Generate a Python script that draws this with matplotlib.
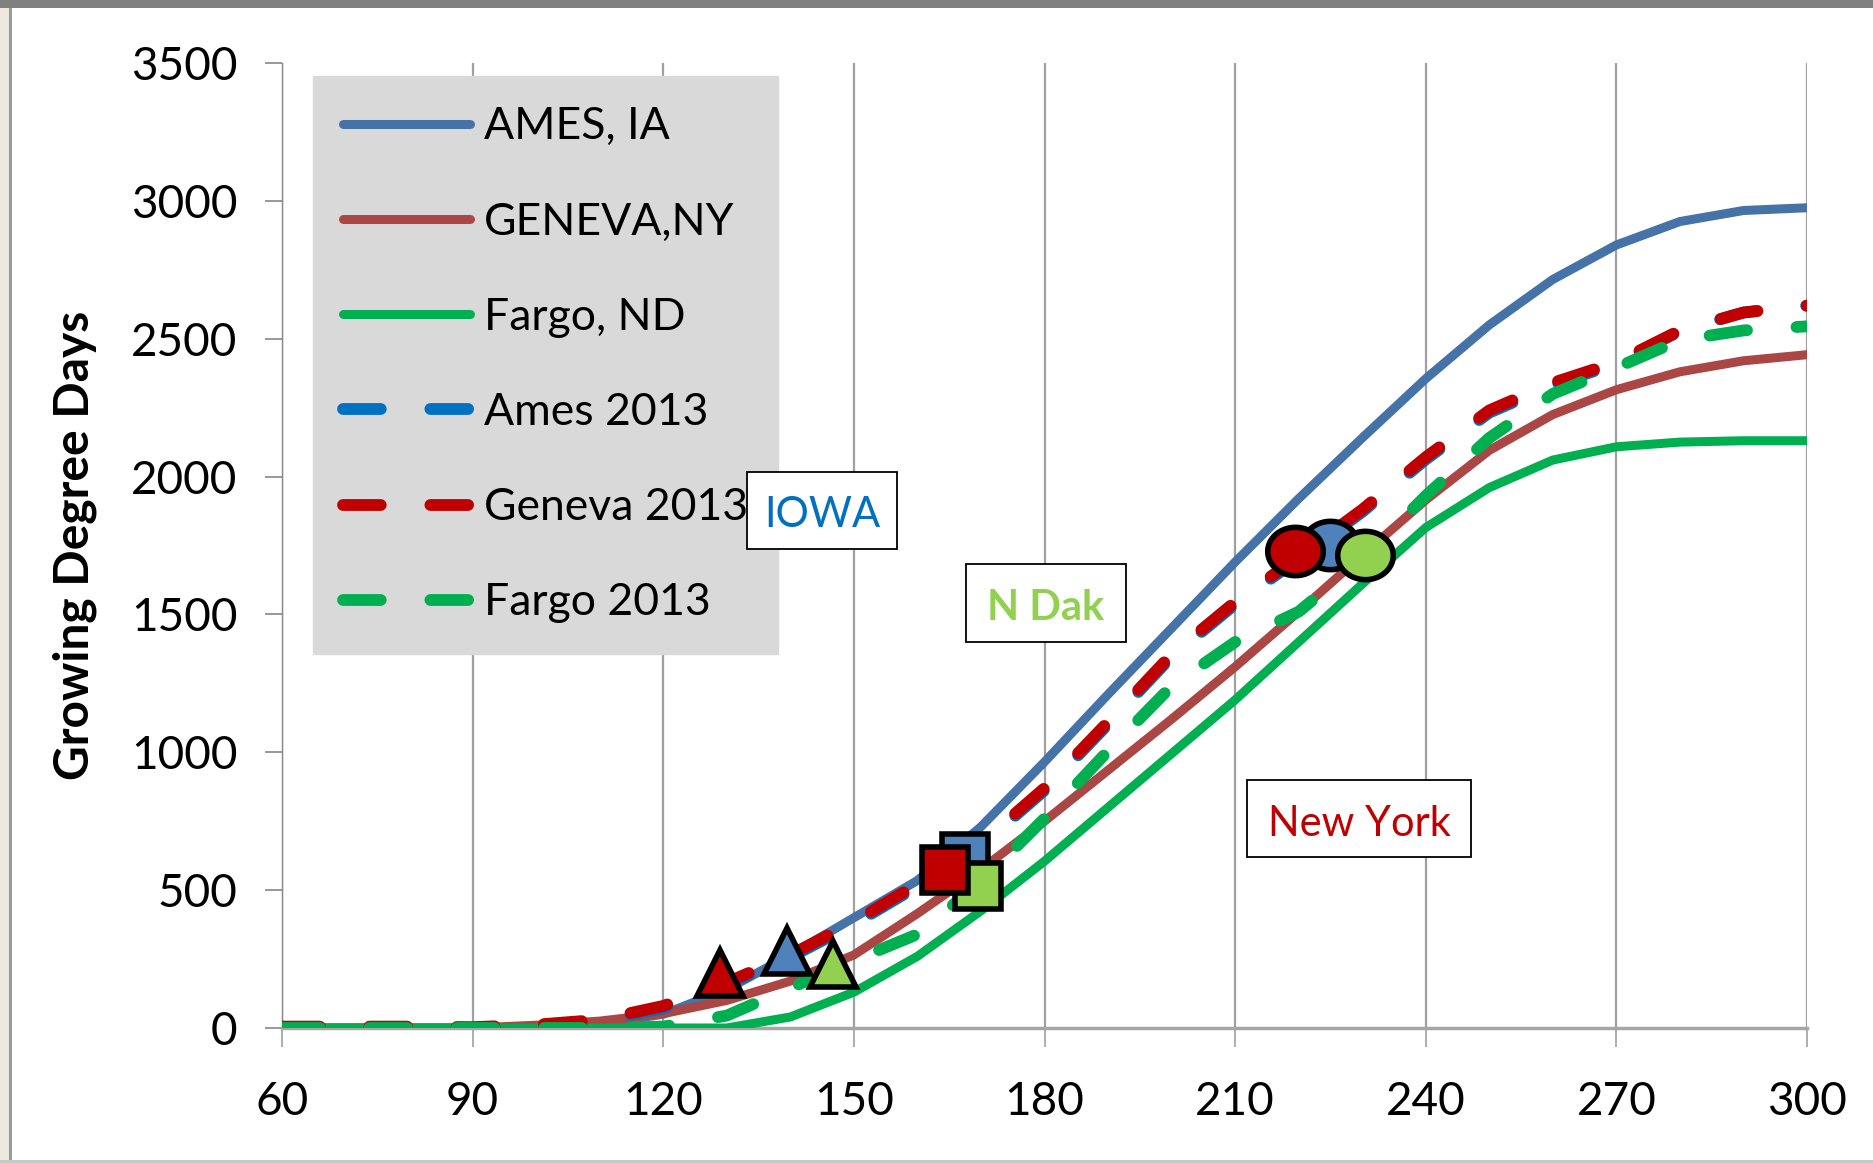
import numpy as np
import matplotlib
matplotlib.use('Agg')
import matplotlib.pyplot as plt
from matplotlib.path import Path
from matplotlib.patches import Rectangle

plt.rcParams['font.family'] = ['Lato', 'DejaVu Sans']

W, H = 1874, 1163

# day of year
days = [60, 70, 80, 90, 100, 110, 120, 130, 140, 150, 160, 170, 180,
        190, 200, 210, 220, 230, 240, 250, 260, 270, 280, 290, 300]

# long-term normals
ames_ia = [0, 0, 0, 0, 3, 15, 50, 140, 265, 400, 535, 730, 965,
           1210, 1450, 1690, 1920, 2140, 2355, 2550, 2715, 2840, 2925, 2965, 2975]
geneva_ny = [0, 0, 0, 0, 10, 25, 52, 100, 170, 265, 415, 575, 750,
             935, 1120, 1310, 1510, 1715, 1915, 2095, 2225, 2315, 2380, 2420, 2442]
fargo_nd = [0, 0, 0, 0, 0, 0, 0, 0, 40, 130, 260, 425, 605,
            800, 995, 1190, 1400, 1610, 1815, 1960, 2060, 2108, 2125, 2130, 2130]

# 2013 season
ames_2013 = [3, 3, 3, 0, 8, 24, 72, 157, 257, 377, 514, 662, 862,
             1102, 1347, 1537, 1702, 1872, 2062, 2232, 2332, 2410, 2528, 2595, 2620]
geneva_2013 = [5, 5, 5, 3, 12, 30, 80, 165, 265, 385, 522, 670, 870,
               1110, 1355, 1545, 1710, 1880, 2070, 2240, 2340, 2415, 2530, 2595, 2620]
fargo_2013 = [0, 0, 0, 0, 0, 0, 5, 45, 145, 245, 340, 530, 760,
              1005, 1240, 1400, 1510, 1700, 1930, 2140, 2300, 2395, 2495, 2530, 2545]

# stage markers: blue = Ames, red = Geneva, green = Fargo
tri_day = {'blue': 139.4, 'red': 128.9, 'green': 146.7}
tri_gdd = {'blue': 279, 'red': 200, 'green': 231}
sq_day = {'blue': 167.5, 'green': 169.5, 'red': 164.3}
sq_gdd = {'blue': 621, 'green': 515, 'red': 572}
circ_day = {'blue': 224.9, 'red': 219.5, 'green': 230.5}
circ_gdd = {'blue': 1752, 'red': 1731, 'green': 1715}

mk_colors = {'blue': '#4F81BD', 'red': '#C00000', 'green': '#92D050'}

fig = plt.figure(figsize=(W / 100, H / 100), dpi=100)
fig.patch.set_facecolor('white')

ax = fig.add_axes([282 / W, 1 - 1028 / H, (1807 - 282) / W, (1028 - 63) / H])

solid_lw = 6.5
dash_lw = 8.5
dash_pat = (3.2, 4.2)

ax.plot(days, ames_ia, color='#4572A7', lw=solid_lw, solid_capstyle='round', label='AMES, IA', zorder=3)
ax.plot(days, geneva_ny, color='#AA4643', lw=solid_lw, solid_capstyle='round', label='GENEVA,NY', zorder=3)
ax.plot(days, fargo_nd, color='#00B050', lw=solid_lw, solid_capstyle='round', label='Fargo, ND', zorder=3)
ax.plot(days, ames_2013, color='#0070C0', lw=dash_lw, dashes=dash_pat, dash_capstyle='round',
        label='Ames 2013', zorder=4)
ax.plot(days, geneva_2013, color='#C00000', lw=dash_lw, dashes=dash_pat, dash_capstyle='round',
        label='Geneva 2013', zorder=4)
ax.plot(days, fargo_2013, color='#00B050', lw=dash_lw, dashes=dash_pat, dash_capstyle='round',
        label='Fargo 2013', zorder=4)

# ellipse marker for the circles
t = np.linspace(0, 2 * np.pi, 80)
ellipse = Path(np.column_stack([np.cos(t), 0.87 * np.sin(t)]))

for c in ['red', 'blue', 'green']:
    ax.plot(tri_day[c], tri_gdd[c], marker='^', ms=33, mfc=mk_colors[c], mec='black', mew=4,
            ls='none', zorder=6)
for c in ['blue', 'green', 'red']:
    ax.plot(sq_day[c], sq_gdd[c], marker='s', ms=33, mfc=mk_colors[c], mec='black', mew=4,
            ls='none', zorder=6)
for c in ['blue', 'red', 'green']:
    ax.plot(circ_day[c], circ_gdd[c], marker=ellipse, ms=40, mfc=mk_colors[c], mec='black', mew=4,
            ls='none', zorder=6)

ax.set_xlim(60, 300)
ax.set_ylim(0, 3500)
ax.set_xticks(range(60, 301, 30))
ax.set_yticks(range(0, 3501, 500))
ax.xaxis.grid(True, color='#A0A0A0', lw=1.6, zorder=0)
ax.set_axisbelow(True)
for s in ['top', 'right']:
    ax.spines[s].set_visible(False)
ax.spines['left'].set_color('#868686')
ax.spines['left'].set_linewidth(1.0)
ax.spines['bottom'].set_color('#A6A6A6')
ax.spines['bottom'].set_linewidth(2.5)
ax.tick_params(axis='x', length=14, width=1.2, color='#A0A0A0', pad=24, labelsize=33)
ax.tick_params(axis='y', length=12, width=1.2, color='#868686', pad=20, labelsize=33)

ax.set_ylabel('Growing Degree Days', fontsize=34.5, fontweight='bold')
ax.yaxis.set_label_coords(-0.121, 0.5)

leg = ax.legend(loc='upper left', bbox_to_anchor=(31 / 1525, (1028 - 76) / 965), borderaxespad=0,
                frameon=True, fancybox=False, facecolor='#D9D9D9', edgecolor='#D9D9D9',
                framealpha=1, fontsize=32, handlelength=2.86, handletextpad=0.3,
                labelspacing=1.22, borderpad=0.68)
leg.set_zorder(8)


def label_box(x0, y0, x1, y1, text, color, weight='normal'):
    fig.add_artist(Rectangle((x0 / W, 1 - y1 / H), (x1 - x0) / W, (y1 - y0) / H,
                             transform=fig.transFigure, facecolor='white',
                             edgecolor='black', lw=1.3, zorder=10))
    fig.text((x0 + x1) / 2 / W, 1 - ((y0 + y1) / 2 + 5) / H, text, color=color, fontsize=30,
             fontweight=weight, ha='center', va='center', zorder=11)


label_box(747, 472, 897, 549, 'IOWA', '#0070C0')
label_box(966, 564, 1126, 642, 'N Dak', '#92D050', 'bold')
label_box(1247, 780, 1471, 857, 'New York', '#C00000')

# outer frame of the screenshot
fig.add_artist(Rectangle((0, 0), 10 / W, 1, transform=fig.transFigure,
                         facecolor='#ECE9DF', edgecolor='none', zorder=20))
fig.add_artist(Rectangle((9 / W, 0), 3 / W, 1, transform=fig.transFigure,
                         facecolor='#9A9A9A', edgecolor='none', zorder=21))
fig.add_artist(Rectangle((0, 1 - 8 / H), 1, 8 / H, transform=fig.transFigure,
                         facecolor='#808080', edgecolor='none', zorder=22))
fig.add_artist(Rectangle((0, 0), 1, 3 / H, transform=fig.transFigure,
                         facecolor='#C8C8C8', edgecolor='none', zorder=22))

fig.savefig('out.png', dpi=100)
